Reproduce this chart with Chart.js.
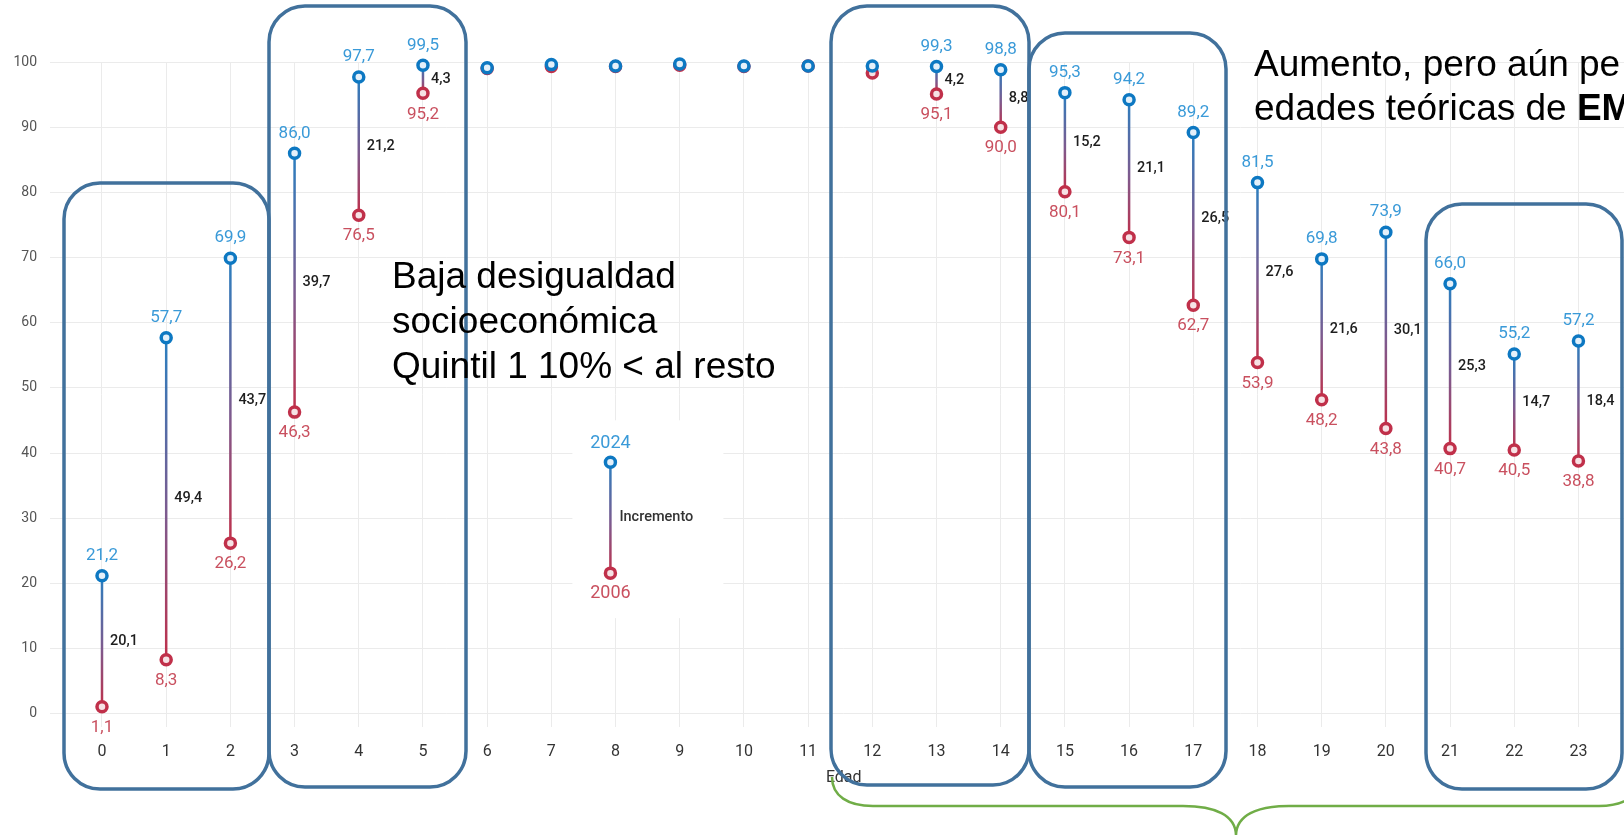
<!DOCTYPE html>
<html>
<head>
<meta charset="utf-8">
<script src="https://cdn.jsdelivr.net/npm/chart.js@4.4.1/dist/chart.umd.min.js"></script>
<style>
html,body{margin:0;padding:0;background:#fff;overflow:hidden;width:1624px;height:835px;}
#wrap{position:relative;width:1624px;height:835px;overflow:hidden;}
#c{position:absolute;left:0;top:0;}
#ov{position:absolute;left:0;top:0;pointer-events:none;}
.note{position:absolute;font-family:"Liberation Sans",Arial,sans-serif;font-size:37px;line-height:45px;color:#000;white-space:nowrap;}
</style>
</head>
<body>
<div id="wrap">
<canvas id="c" width="1646" height="835"></canvas>
<svg id="ov" width="1624" height="835" xmlns="http://www.w3.org/2000/svg">
  <g fill="none" stroke="#41719c" stroke-width="3.5">
    <rect x="64" y="183" width="205" height="606" rx="36" ry="36"/>
    <rect x="269" y="6" width="197" height="781" rx="36" ry="36"/>
    <rect x="831" y="6" width="198" height="779" rx="36" ry="36"/>
    <rect x="1029" y="33" width="197" height="754" rx="36" ry="36"/>
    <rect x="1426" y="204" width="196" height="585" rx="36" ry="36"/>
  </g>
  <path d="M832,777 C832,796 848,806 873,806 L1183,806 C1215,806 1236,815 1236,836 C1236,815 1257,806 1289,806 L1599,806 C1624,806 1640,796 1640,777"
        fill="none" stroke="#70ad47" stroke-width="2.5"/>
</svg>
<div class="note" style="left:392px;top:253px;">Baja desigualdad<br>socioeconómica<br>Quintil 1 10% &lt; al resto</div>
<div class="note" style="left:1254px;top:42px;line-height:44px;">Aumento, pero aún pe<br>edades teóricas de <b>EM</b></div>
</div>
<script>
// ---- data ----
const edad = [0,1,2,3,4,5,6,7,8,9,10,11,12,13,14,15,16,17,18,19,20,21,22,23];
const tasa2006 = [1.1,8.3,26.2,46.3,76.5,95.2,99.0,99.3,99.3,99.5,99.3,99.4,98.3,95.1,90.0,80.1,73.1,62.7,53.9,48.2,43.8,40.7,40.5,38.8];
const tasa2024 = [21.2,57.7,69.9,86.0,97.7,99.5,99.1,99.6,99.4,99.7,99.4,99.4,99.4,99.3,98.8,95.3,94.2,89.2,81.5,69.8,73.9,66.0,55.2,57.2];
const incremento = [20.1,49.4,43.7,39.7,21.2,4.3,null,null,null,null,null,null,null,4.2,8.8,15.2,21.1,26.5,27.6,21.6,30.1,25.3,14.7,18.4];
const yTicks = [0,10,20,30,40,50,60,70,80,90,100];
const leyendaSeries = ['2024','2006'];
const leyendaTexto = 'Incremento';
const leyendaEdad = 7.92;
const leyendaValores = [38.6, 21.6];

// ---- styles ----
const AZUL = '#0d78c2', AZUL_TXT = '#3a9ad8', ROJO = '#c0304a', ROJO_TXT = '#c9505f';
const fmt = v => v.toFixed(1).replace('.', ',');

function stem(ctx, x, yLow, yHigh) {
  const g = ctx.createLinearGradient(0, yLow, 0, yHigh);
  g.addColorStop(0, ROJO);
  g.addColorStop(0.45, '#7d5a8e');
  g.addColorStop(1, '#2a7fc0');
  ctx.strokeStyle = g;
  ctx.lineWidth = 2.5;
  ctx.beginPath();
  ctx.moveTo(x, yLow);
  ctx.lineTo(x, yHigh);
  ctx.stroke();
}
function ring(ctx, x, y, col, fill) {
  ctx.beginPath();
  ctx.arc(x, y, 5, 0, Math.PI * 2);
  ctx.fillStyle = fill;
  ctx.fill();
  ctx.lineWidth = 3.5;
  ctx.strokeStyle = col;
  ctx.stroke();
}

const dumbbell = {
  id: 'dumbbell',
  beforeDatasetsDraw(chart) {
    const {ctx, scales: {x, y}} = chart;
    ctx.save();
    const lx = x.getPixelForValue(leyendaEdad);
    const lyA = y.getPixelForValue(leyendaValores[0]);
    const lyB = y.getPixelForValue(leyendaValores[1]);
    ctx.fillStyle = '#fff';
    ctx.fillRect(lx - 38, lyA - 42, 151, (lyB + 45) - (lyA - 42));
    edad.forEach((e, i) => {
      stem(ctx, x.getPixelForValue(e), y.getPixelForValue(tasa2006[i]), y.getPixelForValue(tasa2024[i]));
    });
    stem(ctx, lx, lyB, lyA);
    ring(ctx, lx, lyB, ROJO, '#f6e2e5');
    ring(ctx, lx, lyA, AZUL, '#e4f0fa');
    ctx.textAlign = 'center';
    ctx.textBaseline = 'middle';
    ctx.font = '18px Roboto';
    ctx.fillStyle = AZUL_TXT;
    ctx.fillText(leyendaSeries[0], lx, lyA - 19);
    ctx.fillStyle = ROJO_TXT;
    ctx.fillText(leyendaSeries[1], lx, lyB + 20);
    ctx.textAlign = 'left';
    ctx.font = '500 14.5px Roboto';
    ctx.fillStyle = '#333';
    ctx.fillText(leyendaTexto, lx + 9, (lyA + lyB) / 2);
    ctx.restore();
  },
  afterDatasetsDraw(chart) {
    const {ctx, scales: {x, y}} = chart;
    ctx.save();
    ctx.textBaseline = 'middle';
    edad.forEach((e, i) => {
      if (incremento[i] === null) return;
      const px = x.getPixelForValue(e);
      const yHi = y.getPixelForValue(tasa2024[i]);
      const yLo = y.getPixelForValue(tasa2006[i]);
      ctx.textAlign = 'center';
      ctx.font = '17px Roboto';
      ctx.fillStyle = AZUL_TXT;
      ctx.fillText(fmt(tasa2024[i]), px, yHi - 20);
      ctx.fillStyle = ROJO_TXT;
      ctx.fillText(fmt(tasa2006[i]), px, yLo + 21);
      ctx.textAlign = 'left';
      ctx.font = '500 14.5px Roboto';
      ctx.fillStyle = '#1e1e1e';
      ctx.fillText(fmt(incremento[i]), px + 8, (yHi + yLo) / 2);
    });
    ctx.restore();
  }
};

new Chart(document.getElementById('c'), {
  type: 'scatter',
  data: {
    datasets: [
      {
        label: '2024',
        data: edad.map((e, i) => ({x: e, y: tasa2024[i]})),
        pointRadius: 5, pointHoverRadius: 5,
        pointBorderWidth: 3.5, pointHoverBorderWidth: 3.5,
        pointBorderColor: AZUL, pointBackgroundColor: '#e4f0fa',
        clip: false
      },
      {
        label: '2006',
        data: edad.map((e, i) => ({x: e, y: tasa2006[i]})),
        pointRadius: 5, pointHoverRadius: 5,
        pointBorderWidth: 3.5, pointHoverBorderWidth: 3.5,
        pointBorderColor: ROJO, pointBackgroundColor: '#f6e2e5',
        clip: false
      }
    ]
  },
  options: {
    responsive: false,
    animation: false,
    devicePixelRatio: 1,
    events: [],
    layout: {padding: {top: 62, left: 0, right: 0, bottom: 0}},
    plugins: {legend: {display: false}, tooltip: {enabled: false}},
    scales: {
      x: {
        type: 'linear',
        min: -0.81,
        max: 23.92,
        afterBuildTicks: s => { s.ticks = edad.map(v => ({value: v})); },
        afterFit: s => { s.height = 108; },
        grid: {color: '#ebebeb', lineWidth: 1, drawTicks: false},
        border: {display: false},
        ticks: {
          color: '#333',
          font: {family: 'Roboto', size: 16},
          padding: 15,
          maxRotation: 0,
          autoSkip: false,
          callback: v => String(v)
        },
        title: {
          display: true,
          text: 'Edad',
          color: '#333',
          font: {family: 'Roboto', size: 16},
          padding: {top: 0, bottom: 47}
        }
      },
      y: {
        min: -2,
        max: 100,
        afterBuildTicks: s => { s.ticks = yTicks.map(v => ({value: v})); },
        afterFit: s => { s.width = 50; },
        grid: {color: '#ebebeb', lineWidth: 1, drawTicks: false},
        border: {display: false},
        ticks: {
          color: '#555',
          font: {family: 'Roboto', size: 14},
          padding: 13,
          callback: v => String(v)
        }
      }
    }
  },
  plugins: [dumbbell]
});
</script>
</body>
</html>
